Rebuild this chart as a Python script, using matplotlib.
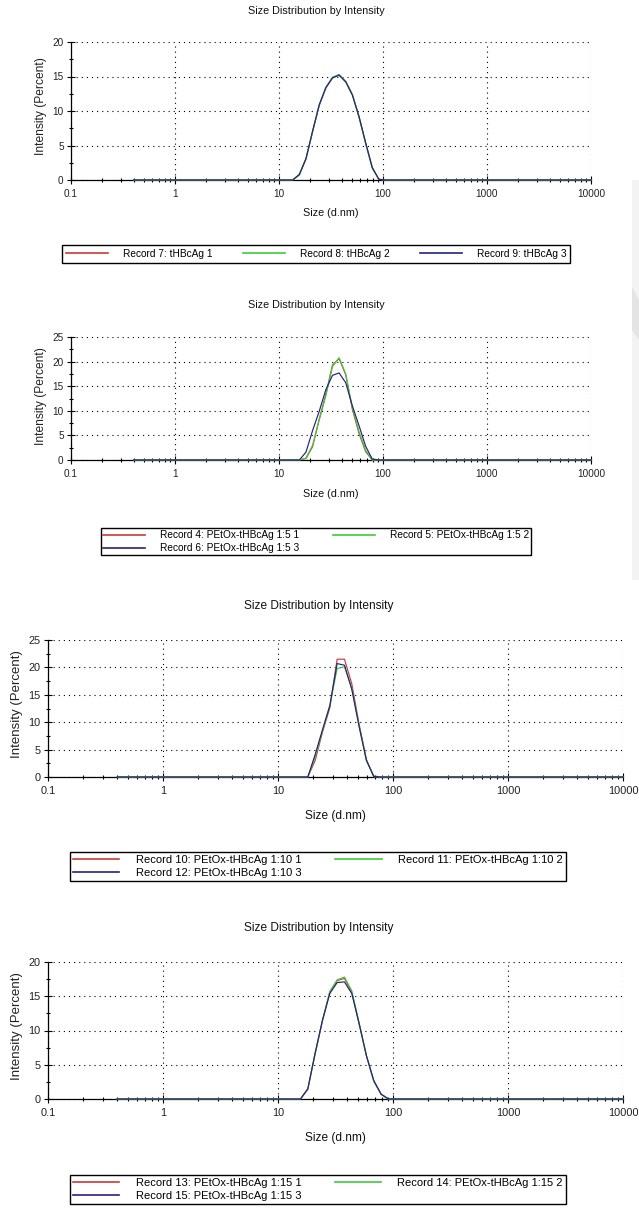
import matplotlib
matplotlib.use("Agg")
import matplotlib.pyplot as plt
from matplotlib.ticker import FixedLocator, NullFormatter, MultipleLocator
from matplotlib.patches import Polygon, Rectangle

plt.rcParams['font.family'] = ["Liberation Sans", "DejaVu Sans"]

# ---------------- data ----------------
size_nm = [0.4, 13.54, 15.69, 18.17, 21.04, 24.36, 28.21, 32.67, 37.84,
           43.82, 50.75, 58.77, 68.06, 78.82, 91.28, 105.7, 10000]

x_ticks = [0.1, 1, 10, 100, 1000, 10000]
x_tick_labels = ["0.1", "1", "10", "100", "1000", "10000"]

# panel 1
p1_labels = ["Record 7: tHBcAg 1", "Record 8: tHBcAg 2", "Record 9: tHBcAg 3"]
p1_rec7 = [0, 0, 0.8, 3.1, 7.0, 10.8, 13.3, 14.8, 15.2, 14.3, 12.4, 9.2, 5.4, 1.8, 0.1, 0, 0]
p1_rec8 = [0, 0, 0.7, 3.0, 7.0, 10.8, 13.4, 14.9, 15.3, 14.3, 12.4, 9.1, 5.3, 1.7, 0.1, 0, 0]
p1_rec9 = [0, 0, 0.8, 3.1, 7.1, 10.9, 13.4, 14.8, 15.2, 14.2, 12.3, 9.2, 5.4, 1.8, 0.1, 0, 0]

# panel 2
p2_labels = ["Record 4: PEtOx-tHBcAg 1:5 1", "Record 5: PEtOx-tHBcAg 1:5 2",
             "Record 6: PEtOx-tHBcAg 1:5 3"]
p2_rec4 = [0, 0, 0, 0.3, 2.7, 8.3, 13.4, 19.3, 20.6, 17.3, 10.3, 5.4, 1.7, 0, 0, 0, 0]
p2_rec5 = [0, 0, 0, 0.4, 3.0, 8.1, 13.0, 19.0, 20.8, 17.5, 10.6, 5.8, 2.0, 0, 0, 0, 0]
p2_rec6 = [0, 0, 0, 1.6, 6.0, 9.9, 14.3, 17.2, 17.7, 15.7, 11.0, 7.0, 2.8, 0.2, 0, 0, 0]

# panel 3
p3_labels = ["Record 10: PEtOx-tHBcAg 1:10 1", "Record 11: PEtOx-tHBcAg 1:10 2",
             "Record 12: PEtOx-tHBcAg 1:10 3"]
p3_rec10 = [0, 0, 0, 0, 3.0, 8.2, 12.6, 21.5, 21.5, 17.0, 9.6, 3.2, 0, 0, 0, 0, 0]
p3_rec11 = [0, 0, 0, 0, 3.7, 8.5, 13.0, 19.8, 20.1, 16.2, 9.3, 3.0, 0.2, 0, 0, 0, 0]
p3_rec12 = [0, 0, 0, 0, 4.1, 8.6, 13.0, 20.7, 20.4, 16.0, 9.2, 3.0, 0.1, 0, 0, 0, 0]

# panel 4
p4_labels = ["Record 13: PEtOx-tHBcAg 1:15 1", "Record 14: PEtOx-tHBcAg 1:15 2",
             "Record 15: PEtOx-tHBcAg 1:15 3"]
p4_rec13 = [0, 0, 0, 1.4, 6.6, 11.4, 15.6, 17.3, 17.6, 15.6, 11.0, 6.3, 2.6, 0.7, 0, 0, 0]
p4_rec14 = [0, 0, 0, 1.5, 6.7, 11.5, 15.7, 17.4, 17.8, 15.8, 11.1, 6.3, 2.6, 0.7, 0, 0, 0]
p4_rec15 = [0, 0, 0, 1.5, 6.7, 11.5, 15.4, 17.0, 17.1, 15.4, 11.0, 6.3, 2.7, 0.7, 0, 0, 0]

title_text = "Size Distribution by Intensity"
xlabel_text = "Size (d.nm)"
ylabel_text = "Intensity (Percent)"

colors = ["#cc3a3a", "#3ccc3c", "#23237e"]

# ---------------- figure ----------------
W, H = 639, 1210
DPI = 100
fig = plt.figure(figsize=(W / DPI, H / DPI), dpi=DPI)
fig.patch.set_facecolor("white")

# faint grey decoration at right edge
fig.patches.append(Rectangle((632 / W, 1 - 580 / H), 7 / W, 400 / H,
                             transform=fig.transFigure, facecolor="#f3f3f3",
                             edgecolor="none", zorder=0))
fig.patches.append(Polygon([(632 / W, 1 - 287 / H), (639 / W, 1 - 300 / H),
                            (639 / W, 1 - 340 / H), (632 / W, 1 - 330 / H)],
                           closed=True, transform=fig.transFigure,
                           facecolor="#e4e4e4", edgecolor="none", zorder=0))


def px_to_fig(x, y):
    return x / W, 1 - y / H


def pt(px):
    return px * 72.0 / DPI


panels = [
    dict(ax=(71, 591, 42, 180), ymax=20, series=[p1_rec7, p1_rec8, p1_rec9],
         labels=p1_labels, k=1.0, title=(316, 11), xlab_y=213, ylab=(41, 106),
         leg=(62, 245, 570, 265), ncol=3, order=[0, 1, 2], bp=0.38),
    dict(ax=(71, 591, 337, 460), ymax=25, series=[p2_rec4, p2_rec5, p2_rec6],
         labels=p2_labels, k=1.0, title=(316, 305), xlab_y=494, ylab=(41, 396),
         leg=(101, 528, 531, 558), ncol=2, order=[0, 2, 1], bp=0.22),
    dict(ax=(48, 623, 640, 777), ymax=25, series=[p3_rec10, p3_rec11, p3_rec12],
         labels=p3_labels, k=1.1, title=(319, 606), xlab_y=816, ylab=(17, 704),
         leg=(70, 852, 566, 887), ncol=2, order=[0, 2, 1], bp=0.28),
    dict(ax=(48, 623, 962, 1099), ymax=20, series=[p4_rec13, p4_rec14, p4_rec15],
         labels=p4_labels, k=1.1, title=(319, 928), xlab_y=1138, ylab=(17, 1026),
         leg=(70, 1175, 566, 1209), ncol=2, order=[0, 2, 1], bp=0.28),
]

minor_x = [m * 10.0 ** e for e in range(-1, 4) for m in range(2, 10)]

for p in panels:
    x0, x1, yt, yb = p["ax"]
    k = p["k"]
    fs_title = pt(10.8 * k)
    fs_xlab = pt(10.8 * k)
    fs_ylab = pt(12.0 * k)
    leg_px = 10.1 * k
    fs_leg = pt(leg_px)
    fs_tick = pt(10.0 * k)

    ax = fig.add_axes([x0 / W, 1 - yb / H, (x1 - x0) / W, (yb - yt) / H])
    ax.set_facecolor("none")
    ax.set_xscale("log")
    ax.set_xlim(0.1, 10000)
    ax.set_ylim(0, p["ymax"])

    handles = []
    for vals, col, lab in zip(p["series"], colors, p["labels"]):
        ln, = ax.plot(size_nm, vals, color=col, lw=0.85, clip_on=False,
                      zorder=5, label=lab, solid_joinstyle="round")
        handles.append(ln)

    ax.xaxis.set_major_locator(FixedLocator(x_ticks))
    ax.set_xticklabels(x_tick_labels)
    ax.xaxis.set_minor_locator(FixedLocator(minor_x))
    ax.xaxis.set_minor_formatter(NullFormatter())
    ax.yaxis.set_major_locator(MultipleLocator(5))
    ax.yaxis.set_minor_locator(MultipleLocator(2.5))

    ax.tick_params(axis="both", which="major", direction="inout", length=5.5,
                   width=0.8, color="black", labelsize=fs_tick, labelcolor="#222222")
    ax.tick_params(axis="x", which="major", pad=3.5)
    ax.tick_params(axis="y", which="major", pad=2.5)
    ax.tick_params(axis="both", which="minor", direction="inout", length=3.5,
                   width=0.8, color="black")

    ax.grid(True, which="major", color="black", linestyle=(0, (1, 3.6)),
            linewidth=0.8)
    ax.set_axisbelow(True)
    for s in ["top", "right"]:
        ax.spines[s].set_visible(False)
    for s in ["left", "bottom"]:
        ax.spines[s].set_color("black")
        ax.spines[s].set_linewidth(0.9)
        ax.spines[s].set_zorder(4)

    tx, ty = px_to_fig(*p["title"])
    fig.text(tx, ty, title_text, ha="center", va="center", fontsize=fs_title,
             color="#111111")
    xx, xy = px_to_fig((x0 + x1) / 2, p["xlab_y"])
    fig.text(xx, xy, xlabel_text, ha="center", va="center", fontsize=fs_xlab,
             color="#111111")
    yx, yy = px_to_fig(*p["ylab"])
    fig.text(yx, yy, ylabel_text, ha="center", va="center", rotation=90,
             fontsize=fs_ylab, color="#222222")

    lx0, ly0, lx1, ly1 = p["leg"]
    oh = [handles[i] for i in p["order"]]
    ol = [p["labels"][i] for i in p["order"]]
    leg = ax.legend(oh, ol, loc="upper left",
                    bbox_to_anchor=(lx0 / W, 1 - ly1 / H, (lx1 - lx0) / W, (ly1 - ly0) / H),
                    bbox_transform=fig.transFigure, mode="expand", ncol=p["ncol"],
                    fontsize=fs_leg, frameon=True, fancybox=False, shadow=False,
                    handlelength=42 * k / leg_px, handletextpad=15 * k / leg_px,
                    borderpad=p["bp"], labelspacing=0.28, borderaxespad=0,
                    columnspacing=1.0)
    fr = leg.get_frame()
    fr.set_edgecolor("black")
    fr.set_linewidth(1.0)
    fr.set_facecolor("white")
    fr.set_alpha(1)
    for lh in leg.get_lines():
        lh.set_linewidth(1.2)

fig.savefig("out.png", dpi=DPI)
